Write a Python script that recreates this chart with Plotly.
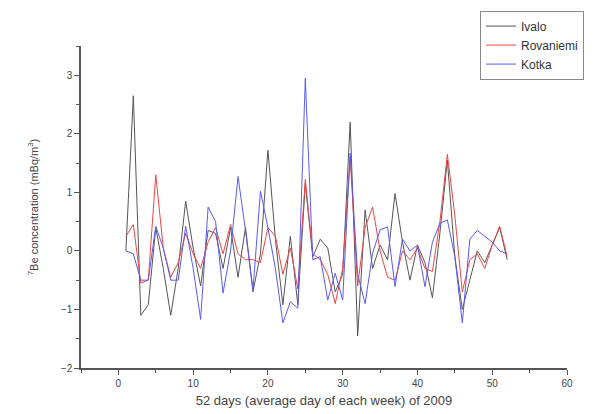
import plotly.graph_objects as go

weeks = list(range(1, 53))

ivalo = [0.0, 2.65, -1.1, -0.92, 0.4, -0.3, -1.1, -0.3, 0.85, 0.05,
         -0.6, 0.35, 0.3, -0.3, 0.4, -0.45, 0.4, -0.7, -0.05, 1.72,
         0.2, -0.92, 0.25, -0.92, 1.15, -0.1, 0.2, 0.05, -0.7, -0.4,
         2.2, -1.45, 0.7, -0.3, 0.1, -0.15, 0.98, 0.15, -0.5, 0.1,
         -0.2, -0.8, 0.3, 1.55, -0.1, -1.0, -0.5, 0.0, -0.2, 0.1,
         0.4, -0.15]

rovaniemi = [0.25, 0.45, -0.55, -0.5, 1.3, 0.05, -0.45, -0.2, 0.3, -0.05,
             -0.3, 0.15, 0.4, -0.05, 0.45, -0.05, -0.15, -0.15, -0.2, 0.4,
             0.25, -0.4, 0.05, -0.65, 1.22, -0.05, -0.15, -0.4, -0.9, -0.3,
             1.6, -0.6, 0.4, 0.75, 0.0, -0.45, -0.5, 0.0, -0.15, 0.05,
             -0.3, -0.35, 0.5, 1.65, 0.6, -0.7, -0.15, -0.05, -0.3, 0.1,
             0.42, -0.1]

kotka = [0.0, -0.05, -0.5, -0.5, 0.42, 0.05, -0.5, -0.5, 0.42, -0.3,
         -1.17, 0.75, 0.5, -0.72, 0.0, 1.27, 0.35, -0.67, 1.02, 0.4,
         -0.3, -1.23, -0.87, -0.98, 2.95, -0.15, -0.1, -0.84, -0.38, -0.84,
         1.67, -0.4, -0.9, -0.04, 0.36, 0.41, -0.61, 0.2, 0.0, 0.1,
         -0.61, 0.15, 0.47, 0.53, -0.1, -1.23, 0.2, 0.35, 0.25, 0.15,
         0.0, -0.05]

series = [
    ("Ivalo", ivalo, "rgb(85,85,85)"),
    ("Rovaniemi", rovaniemi, "rgb(235,70,70)"),
    ("Kotka", kotka, "rgb(90,90,245)"),
]

fig = go.Figure()
for name, vals, color in series:
    fig.add_trace(go.Scatter(x=weeks, y=vals, mode="lines", name=name,
                             line=dict(color=color, width=1)))

axis_common = dict(
    showgrid=False, zeroline=False, showline=True, linecolor="#555",
    linewidth=1.5, ticks="outside", ticklen=5, tickwidth=1, tickcolor="#555",
    tickfont=dict(family="Liberation Sans, Arial", size=10, color="#444"),
    mirror=False,
)

fig.update_layout(
    width=594, height=406,
    margin=dict(l=73, r=35, t=38, b=46, autoexpand=False),
    paper_bgcolor="white", plot_bgcolor="white",
    font=dict(family="Liberation Sans, Arial", color="#444"),
    xaxis=dict(range=[-5, 60], dtick=10, tick0=0,
               minor=dict(dtick=5, ticklen=3, ticks="outside", tickcolor="#555"),
               title=dict(text="52 days (average day of each week) of 2009",
                          font=dict(size=13), standoff=8),
               **axis_common),
    yaxis=dict(range=[-2, 3.5], dtick=1, tick0=0,
               minor=dict(dtick=0.5, ticklen=3, ticks="outside", tickcolor="#555"),
               title=dict(text="<sup>7</sup>Be concentration (mBq/m<sup>3</sup>)",
                          font=dict(size=11), standoff=20),
               **axis_common),
    legend=dict(x=0.821, y=1.11, xanchor="left", yanchor="top",
                bordercolor="#888", borderwidth=1, bgcolor="white",
                font=dict(size=12, family="Liberation Sans, Arial", color="#333"),
                tracegroupgap=0, itemwidth=30),
    showlegend=True,
)

fig.write_html("out.html")
